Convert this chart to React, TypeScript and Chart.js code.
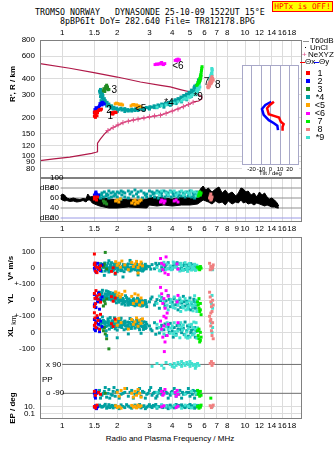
import React, { useEffect, useRef } from "react";
import { Chart, registerables } from "chart.js";
Chart.register(...registerables);

type P = [number, number];

const SANS = "'Liberation Sans', Arial, Helvetica, sans-serif";
const MONO = "'DejaVu Sans Mono', 'Liberation Mono', monospace";
const GRID = "#dcdcdc";
const FRAME = "#808080";

// ---------------- axes ----------------
const F_MIN = 0.756;
const F_MAX = 20.5;
const FREQ_TICKS_TOP = [1, 1.5, 2, 3, 4, 5, 6, 7, 8, 10, 12, 14, 16, 18];
const FREQ_TICKS_MID = [1, 1.5, 2, 3, 4, 5, 6, 7, 8, 9, 10, 12, 14, 16, 18];
const FREQ_TICKS_BOT = [1, 1.5, 2, 3, 4, 5, 6, 7, 8, 10, 12, 14, 16, 18];
const HEIGHT_MIN = 67.5;
const HEIGHT_MAX = 800;
const HEIGHT_TICKS = [80, 90, 100, 120, 150, 200, 300, 400, 600, 800];
const DB_MIN = 12;
const DB_MAX = 100;
const DB_LEVELS = [100, 80, 60, 40];
const DBN_LEVEL = 20;
const TILT_TICKS = [-20, -10, 0, 10, 20];
const TILT_H_MIN = 84.6;
const TILT_H_MAX = 508;

// lower block: one composite axis (V*, YL, XL, PP, EP)
const U_MIN = -740;
const U_MAX = 394;
const V_BASE = 200;
const YL_BASE = 0;
const XL_BASE = -200;
const PPX_BASE = -400;
const PPO_BASE = -580;
const PP_SCALE = 3;
const EP_BASE = -664;
const EP_DECADE = 22;
const LOWER_TICKS: [number, string][] = [
  [300, "100"], [200, "0"], [100, "+-100"], [0, "0"], [-100, "+-100"], [-200, "0"], [-300, "-100"],
  [-664, "10."], [-708, "0.1"],
];

// ---------------- colours ----------------
const SERIES_NAMES = ["1", "2", "3", "*4", "<5", "<6", "7", "8", "*9"];
const SERIES_COLORS = ["#ff0000", "#0000ff", "#228b22", "#00a0a0", "#ffa500", "#ff00ff", "#00ee00", "#f08080", "#40e0d0"];
const MODEL_COLOR = "#b01848";
const NEXYZ_COLOR = "#e0508a";

// ---------------- R', R (f MHz, h km) ----------------
const TOP_1: P[] = [[1.5, 204], [1.52, 208], [1.51, 214], [1.53, 212], [1.55, 206], [1.5, 220], [1.53, 222], [1.56, 218], [1.58, 226], [1.6, 230], [1.62, 228], [1.64, 232], [1.52, 200], [1.86, 214], [1.88, 218], [1.91, 216], [1.94, 220], [1.97, 218], [1.89, 212]];
const TOP_2: P[] = [[1.5, 218], [1.52, 224], [1.51, 230], [1.54, 228], [1.56, 234], [1.53, 238], [1.58, 240], [1.6, 246], [1.62, 252], [1.64, 258], [1.66, 262], [1.68, 258], [1.7, 254], [1.65, 250], [1.61, 256], [1.57, 236], [1.55, 226]];
const TOP_3: P[] = [[1.68, 322], [1.7, 330], [1.72, 338], [1.73, 348], [1.75, 356], [1.74, 340], [1.76, 334], [1.78, 328], [1.71, 318], [1.69, 334], [1.77, 345], [1.8, 330]];
const TOP_4: P[] = [[1.6, 320], [1.62, 330], [1.61, 310], [1.63, 300], [1.62, 290], [1.64, 318], [1.66, 305], [1.65, 285], [1.67, 295], [1.68, 275], [1.7, 280], [1.7, 265], [1.72, 270], [1.74, 258], [1.76, 262], [1.78, 250], [1.8, 254], [1.83, 244], [1.86, 246], [1.88, 238], [1.92, 240], [1.95, 234], [1.99, 236], [2.03, 230], [2.08, 233], [2.12, 228], [2.17, 231], [2.22, 227], [2.28, 230], [2.34, 228], [2.4, 232], [2.46, 229], [2.52, 233], [2.58, 230], [2.64, 234], [2.7, 232], [2.76, 236], [2.82, 234], [2.88, 239], [2.95, 237], [3.02, 242], [3.1, 240], [3.18, 246], [3.26, 244], [3.34, 250], [3.42, 248], [3.5, 254], [3.58, 252], [3.66, 258], [3.74, 256], [3.82, 262], [3.9, 262], [3.98, 268], [4.06, 266], [4.14, 274], [4.22, 272], [4.3, 280], [4.38, 278], [4.46, 288], [4.54, 286], [4.62, 296], [4.7, 294], [4.78, 304], [4.86, 302], [4.94, 314], [5.02, 312], [5.1, 326], [5.18, 322], [5.26, 340], [5.34, 336], [5.4, 356], [5.46, 350], [5.52, 374], [5.56, 392],
  [1.9, 232], [2.0, 226], [2.1, 236], [2.2, 234], [2.3, 224], [2.5, 226], [2.6, 238], [2.8, 230], [3.0, 236], [3.2, 238], [3.4, 244], [3.6, 246], [3.8, 252], [4.0, 258], [4.2, 262], [4.4, 272], [4.6, 280], [4.8, 288], [5.0, 298], [5.2, 310], [5.3, 350], [5.4, 330], [5.5, 340], [5.3, 320], [5.5, 360], [5.56, 372],
  [2.0, 222], [2.2, 222], [2.4, 224], [2.6, 226], [2.8, 228], [3.0, 232], [3.3, 238], [3.6, 240], [3.9, 248], [4.2, 256], [4.5, 264], [4.8, 274], [5.1, 292], [1.75, 245], [1.85, 236], [1.65, 262], [1.63, 270]];
const TOP_5: P[] = [[1.95, 255], [1.98, 258], [2.02, 256], [2.06, 252], [2.1, 254], [2.14, 250], [2.38, 246], [2.42, 250], [2.46, 252], [2.5, 248], [2.55, 250], [2.6, 246], [2.65, 244], [2.7, 242], [2.58, 240]];
const TOP_6: P[] = [[3.22, 515], [3.28, 520], [3.34, 518], [3.4, 522], [3.46, 528], [3.52, 520], [3.58, 515], [3.64, 524], [3.5, 535], [4.15, 555], [4.22, 562], [4.3, 568], [4.38, 560], [4.26, 550]];
const TOP_7: P[] = [[5.45, 355], [5.5, 362], [5.55, 370], [5.58, 380], [5.62, 390], [5.66, 402], [5.7, 415], [5.73, 430], [5.76, 448], [5.78, 465], [5.8, 482], [5.82, 496], [5.6, 372], [5.68, 388], [5.72, 400], [5.64, 380], [5.75, 420]];
const TOP_8: P[] = [[6.25, 345], [6.3, 355], [6.35, 365], [6.4, 375], [6.45, 385], [6.5, 395], [6.55, 405], [6.6, 415], [6.65, 402], [6.7, 390], [6.6, 380], [6.5, 365], [6.4, 350], [6.55, 372], [6.3, 340]];
const TOP_9: P[] = [[3.3, 240], [3.5, 246], [3.7, 250], [3.9, 256], [4.1, 258], [4.3, 264], [4.5, 268], [4.6, 276], [4.7, 282], [4.8, 278], [4.9, 290], [5.0, 286], [5.1, 296], [5.2, 300], [5.3, 306], [5.4, 312], [5.45, 325], [5.5, 335], [5.55, 345], [5.6, 355], [5.62, 368], [5.65, 380], [5.68, 395], [5.7, 410], [5.72, 425], [5.6, 330], [5.5, 318], [5.4, 300], [5.66, 345],
  [6.5, 425], [6.55, 440], [6.6, 455], [6.62, 470], [6.58, 480], [6.45, 410], [6.4, 395], [6.6, 430]];
const TOP_LABELS: [string, number, number][] = [["1", 1.77, 205], ["2", 1.74, 226], ["3", 1.86, 324], ["*4", 3.62, 256], ["<5", 2.5, 233], ["<6", 4.0, 502], ["7", 5.95, 376], ["8", 6.85, 355], ["*9", 5.22, 288]];
const MODEL_PROFILE: P[] = [[0.756, 92], [0.9, 95], [1.1, 98], [1.3, 102], [1.45, 105], [1.53, 107], [1.56, 108], [1.56, 126], [1.62, 136], [1.7, 148], [1.78, 158], [1.9, 167], [2.2, 184], [2.6, 194], [3.0, 202], [3.45, 208], [4.0, 224], [4.5, 240], [5.0, 255], [5.24, 264], [5.58, 268], [5.8, 278], [5.82, 288], [5.65, 297], [5.02, 315], [4.43, 329], [3.9, 345], [3.45, 355], [2.68, 377], [2.0, 412], [1.49, 446], [1.1, 482], [0.756, 524]];
const NEXYZ: P[] = [[1.78, 158], [1.9, 167], [2.02, 175], [2.15, 182], [2.3, 187], [2.45, 191], [2.6, 194], [2.8, 198], [3.0, 202], [3.2, 205], [3.45, 208], [3.7, 215], [4.0, 224], [4.3, 232], [4.6, 242], [4.9, 252], [5.2, 262]];

// ---------------- tilt inset (deg, km) ----------------
const TILT_X: P[] = [[3.6, 263], [-0.7, 248], [-3.6, 234], [-1.8, 210], [3.6, 204], [9, 198], [10.8, 184], [13.8, 176], [12.7, 168], [12.7, 156]];
const TILT_Y: P[] = [[0.8, 263], [-5.4, 248], [-9, 231], [-7.2, 208], [-1.8, 189], [3.6, 179], [7.2, 171], [7.9, 158]];

// ---------------- amplitude dBe ----------------
const NOISE_F = [0.98, 1.0, 1.03, 1.06, 1.1, 1.15, 1.2, 1.25, 1.3, 1.35, 1.38, 1.42, 1.46, 1.5, 1.6, 1.8, 2.0, 2.3, 2.6, 2.9, 3.0, 3.3, 3.6, 4.0, 4.5, 5.0, 5.5, 5.7, 5.9, 6.1, 6.3, 6.6, 6.9, 7.2, 7.5, 7.8, 8.1, 8.5, 8.9, 9.2, 9.5, 9.8, 10.1, 10.4, 10.8, 11.2, 11.6, 12.0, 12.4, 12.8, 13.2, 13.6, 14.0, 14.5, 15.0, 15.3];
const NOISE_HI = [64, 68, 66, 60, 58, 60, 58, 57, 59, 58, 68, 62, 63, 64, 62, 58, 56, 58, 56, 58, 60, 62, 60, 58, 62, 60, 64, 78, 84, 76, 80, 72, 78, 82, 70, 76, 68, 72, 64, 70, 80, 78, 72, 74, 66, 70, 62, 72, 66, 70, 62, 58, 60, 56, 50, 44];
const NOISE_LO = [58, 56, 54, 55, 53, 54, 52, 53, 55, 52, 56, 56, 50, 48, 44, 40, 40, 42, 41, 40, 46, 44, 46, 44, 46, 46, 48, 52, 56, 54, 52, 48, 54, 50, 52, 46, 54, 48, 52, 50, 56, 50, 52, 48, 50, 46, 50, 48, 46, 44, 46, 44, 42, 42, 40, 40];
const DB_1: P[] = [[1.5, 58], [1.52, 60], [1.54, 56], [1.56, 62], [1.5, 62]];
const DB_2: P[] = [[1.5, 66], [1.52, 70], [1.54, 68], [1.56, 64], [1.53, 72], [1.58, 66]];
const DB_3: P[] = [[1.7, 50], [1.72, 52], [1.75, 48], [1.68, 54]];
const DB_4: P[] = [[1.6, 66], [1.65, 70], [1.7, 72], [1.75, 68], [1.8, 74], [1.85, 70], [1.9, 72], [1.95, 68], [2.0, 72], [2.05, 70], [2.1, 74], [2.15, 72], [2.2, 70], [2.3, 74], [2.4, 72], [2.5, 76], [2.6, 72], [2.7, 74], [2.8, 70], [2.9, 68], [3.0, 74], [3.1, 72], [3.2, 70], [3.3, 74], [3.4, 72], [3.5, 70], [3.6, 74], [3.7, 72], [3.8, 70], [3.9, 74], [4.0, 72], [4.2, 70], [4.4, 72], [4.6, 70], [4.8, 72], [5.0, 74], [5.2, 70], [5.4, 68],
  [1.62, 60], [1.68, 62], [1.74, 64], [1.8, 60], [1.86, 62], [1.92, 64], [2.0, 62], [2.1, 58], [2.2, 62], [2.3, 60], [2.45, 64], [2.6, 62], [2.75, 60], [2.9, 62], [3.05, 64], [3.2, 62], [3.35, 60], [3.5, 64], [3.65, 62], [3.8, 64], [3.95, 62], [4.1, 64], [4.3, 62], [4.5, 64], [4.7, 62], [4.9, 64], [5.1, 62], [5.3, 60], [5.5, 64],
  [1.64, 66], [1.78, 66], [1.95, 66], [2.12, 66], [2.35, 68], [2.55, 68], [2.85, 66], [3.15, 68], [3.45, 68], [3.75, 66], [4.05, 68], [4.35, 66], [4.65, 68], [4.95, 68], [5.25, 66], [5.45, 72]];
const DB_5: P[] = [[1.96, 54], [2.0, 56], [2.04, 52], [2.08, 58], [2.4, 50], [2.45, 54], [2.5, 56], [2.55, 52], [2.6, 50], [2.65, 54], [2.7, 56], [2.5, 48]];
const DB_6: P[] = [[3.45, 52], [3.5, 56], [3.55, 54], [3.6, 50], [3.65, 54], [4.1, 54], [4.2, 56], [4.3, 52]];
const DB_7: P[] = [[5.55, 64], [5.6, 68], [5.65, 72], [5.7, 66], [5.75, 70]];
const DB_8: P[] = [[6.4, 60], [6.45, 64], [6.5, 68], [6.55, 58], [6.5, 56], [6.6, 62]];
const DB_9: P[] = [[3.3, 70], [3.5, 74], [3.7, 70], [3.9, 72], [4.1, 74], [4.3, 70], [4.5, 74], [4.7, 72], [4.9, 70], [5.1, 74], [5.3, 72], [5.5, 70], [5.6, 66], [3.4, 66], [3.8, 66], [4.2, 66], [4.6, 66], [5.0, 66], [5.4, 64]];

// ---------------- V* (m/s), YL, XL (km) ----------------
const V_1: P[] = [[1.5, 88], [1.5, 22], [1.52, -18], [1.53, 8], [1.55, -28], [1.51, 32], [1.57, 4], [1.6, -8], [1.62, 14], [1.86, -20], [1.9, 2], [1.95, -32]];
const YL_1: P[] = [[1.5, 42], [1.51, 12], [1.52, -22], [1.53, 60], [1.55, 26], [1.5, -40], [1.57, 6], [1.6, 36], [1.62, -12], [1.86, 22], [1.9, -6], [1.95, 14]];
const XL_1: P[] = [[1.5, 122], [1.51, 90], [1.52, 58], [1.53, 30], [1.55, 104], [1.5, 44], [1.57, 74], [1.6, 20], [1.62, 112], [1.86, 54], [1.9, 36], [1.95, 82]];
const V_2: P[] = [[1.5, 26], [1.51, -12], [1.52, 16], [1.53, -22], [1.55, 6], [1.56, 30], [1.58, -6], [1.6, 10], [1.62, -16], [1.65, 20], [1.5, 0], [1.54, -26]];
const YL_2: P[] = [[1.5, 36], [1.51, -22], [1.52, 10], [1.53, -46], [1.55, 26], [1.56, -10], [1.58, 46], [1.6, -56], [1.62, 0], [1.65, 20], [1.5, -30], [1.54, 16]];
const XL_2: P[] = [[1.5, 80], [1.51, 40], [1.52, 10], [1.53, 66], [1.55, 26], [1.56, 90], [1.58, 50], [1.6, 4], [1.62, 70], [1.65, 36], [1.5, 20], [1.54, 60]];
const V_3: P[] = [[1.72, 98], [1.7, 25], [1.75, -5], [1.68, 12]];
const YL_3: P[] = [[1.7, -6], [1.72, -22], [1.75, 8], [1.68, -36]];
const XL_3: P[] = [[1.7, 30], [1.72, -10], [1.75, -40], [1.68, 10], [1.8, -103]];
const V_4: P[] = [[1.6, 12], [1.63, -8], [1.66, 24], [1.69, 4], [1.72, -18], [1.75, 16], [1.78, 30], [1.81, -4], [1.84, 20], [1.87, 0], [1.9, -12], [1.93, 26], [1.96, 6], [2.0, -22], [2.04, 14], [2.08, 2], [2.12, -14], [2.16, 22], [2.2, 10], [2.25, -6], [2.3, 26], [2.35, -18], [2.4, 6], [2.45, 16], [2.5, -10], [2.55, 30], [2.6, 0], [2.65, -14], [2.7, 20], [2.75, 6], [2.8, -6], [2.85, 24], [2.9, 12],
  [1.62, 28], [1.65, -20], [1.68, 10], [1.71, 32], [1.74, -6], [1.77, 2], [1.8, -24], [1.83, 8], [1.86, 34], [1.89, -16], [1.92, 12], [1.95, -4], [1.98, 18], [2.02, -8], [2.06, 30], [2.1, -2], [2.14, 8], [2.18, -22], [2.22, 20], [2.28, 4], [2.32, -10], [2.38, 28], [2.42, -4], [2.48, 10], [2.52, 22], [2.58, -16], [2.62, 14], [2.68, -2], [2.72, 28], [2.78, -12], [2.84, 8], [2.88, -4],
  [1.61, -2], [1.67, 18], [1.73, 8], [1.79, -12], [1.85, 14], [1.91, -6], [1.97, 22], [2.03, 4], [2.09, -16], [2.15, 10], [2.21, -2], [2.27, 16], [2.33, 2], [2.39, -12], [2.45, -2], [2.51, 6], [2.57, 12], [2.63, -8], [2.69, 6], [2.75, -18], [2.81, 14], [2.87, 2],
  [1.7, -45], [1.95, -38], [2.15, -55], [2.35, 48], [2.6, -42], [1.8, 46],
  [3.0, 10], [3.1, 22], [3.2, -4], [3.3, 16], [3.4, 28], [3.5, 6], [3.6, -10], [3.7, 20], [3.8, 34], [3.9, 8], [4.0, -6], [4.1, 24], [4.2, 14], [4.3, -2], [4.4, 26], [4.5, 4], [4.6, 16], [4.7, -8], [4.8, 20], [4.9, 6], [5.0, -4], [5.1, 18], [5.2, 8], [5.3, -6], [5.4, 12],
  [3.05, -6], [3.25, 30], [3.45, -16], [3.65, 6], [3.85, -4], [4.05, 12], [4.25, 34], [4.45, -12], [4.65, 28], [4.85, -2], [5.05, 28], [5.25, 20], [5.35, 0]];
const YL_4: P[] = [[1.6, 50], [1.63, 30], [1.66, 62], [1.69, 12], [1.72, 40], [1.75, 22], [1.78, 54], [1.81, 6], [1.84, 34], [1.87, 18], [1.9, 44], [1.93, -4], [1.96, 26], [2.0, 10], [2.04, -12], [2.08, 20], [2.12, -24], [2.16, 4], [2.2, -8], [2.25, 16], [2.3, -30], [2.35, -2], [2.4, -18], [2.45, 10], [2.5, -34], [2.55, -6], [2.6, -20], [2.65, 4], [2.7, -36], [2.75, -10], [2.8, -24], [2.85, -2], [2.9, -40],
  [1.62, 14], [1.65, 46], [1.68, 26], [1.71, -2], [1.74, 58], [1.77, 36], [1.8, 16], [1.83, 48], [1.86, 2], [1.89, 28], [1.92, 12], [1.95, 38], [1.98, -16], [2.02, 24], [2.06, 2], [2.1, -4], [2.14, 12], [2.18, -18], [2.22, 28], [2.28, -14], [2.32, 8], [2.38, -26], [2.42, -4], [2.48, 2], [2.52, -18], [2.58, 12], [2.62, -30], [2.68, -12], [2.72, -2], [2.78, -30], [2.84, -14], [2.88, -24],
  [1.61, 36], [1.67, 2], [1.73, 22], [1.79, 40], [1.85, 24], [1.91, 30], [1.97, 6], [2.03, -6], [2.09, 6], [2.15, -10], [2.21, -30], [2.27, 0], [2.33, -20], [2.39, -10], [2.45, -28], [2.51, -12], [2.57, -28], [2.63, -8], [2.69, -22], [2.75, -34], [2.81, -6], [2.87, -14],
  [3.0, -10], [3.1, 20], [3.2, -30], [3.3, 4], [3.4, -50], [3.5, 16], [3.6, -20], [3.7, -4], [3.8, 30], [3.9, -40], [4.0, -12], [4.1, 10], [4.2, -28], [4.3, -60], [4.4, 2], [4.5, -18], [4.6, 24], [4.7, -36], [4.8, -6], [4.9, -50], [5.0, 14], [5.1, -22], [5.2, -44], [5.3, -8], [5.4, -30],
  [3.05, 8], [3.25, -14], [3.45, -2], [3.65, -38], [3.85, 6], [4.05, -30], [4.25, -6], [4.45, -44], [4.65, -10], [4.85, -24], [5.05, -60], [5.25, 6], [5.35, -50]];
const XL_4: P[] = [[1.6, 80], [1.63, 50], [1.66, 96], [1.69, 30], [1.72, 66], [1.75, 40], [1.78, 84], [1.81, 20], [1.84, 58], [1.87, 72], [1.9, 36], [1.93, 90], [1.96, 48], [2.0, 14], [2.04, 62], [2.08, 80], [2.12, 30], [2.16, 54], [2.2, 70], [2.25, 22], [2.3, 46], [2.35, 86], [2.4, 38], [2.45, 60], [2.5, 26], [2.55, 74], [2.6, 44], [2.65, 16], [2.7, 58], [2.75, 36], [2.8, 66], [2.85, 24], [2.9, 50],
  [1.62, 64], [1.65, 28], [1.68, 74], [1.71, 52], [1.74, 10], [1.77, 60], [1.8, 44], [1.83, 92], [1.86, 30], [1.89, 56], [1.92, 70], [1.95, 22], [1.98, 64], [2.02, 40], [2.06, 34], [2.1, 88], [2.14, 48], [2.18, 16], [2.22, 40], [2.28, 64], [2.32, 30], [2.38, 52], [2.42, 74], [2.48, 44], [2.52, 56], [2.58, 34], [2.62, 66], [2.68, 40], [2.72, 80], [2.78, 18], [2.84, 44], [2.88, 30],
  [1.61, 44], [1.67, 60], [1.73, 36], [1.79, 70], [1.85, 46], [1.91, 54], [1.97, 36], [2.03, 76], [2.09, 46], [2.15, 64], [2.21, 56], [2.27, 40], [2.33, 62], [2.39, 24], [2.45, 44], [2.51, 50], [2.57, 54], [2.63, 30], [2.69, 46], [2.75, 60], [2.81, 40], [2.87, 62],
  [1.75, -20], [2.0, -34], [2.3, -10], [2.7, -6],
  [3.0, 40], [3.1, 10], [3.2, 60], [3.3, 26], [3.4, -4], [3.5, 44], [3.6, 16], [3.7, -20], [3.8, 34], [3.9, 56], [4.0, 8], [4.1, 30], [4.2, -12], [4.3, 20], [4.4, 48], [4.5, -2], [4.6, 26], [4.7, 64], [4.8, 10], [4.9, -24], [5.0, 36], [5.1, 14], [5.2, -10], [5.3, 30], [5.4, 6],
  [3.05, 20], [3.25, -12], [3.45, 30], [3.65, 52], [3.85, 0], [4.05, -30], [4.25, 42], [4.45, 18], [4.65, -14], [4.85, 40], [5.05, -2], [5.25, 20], [5.35, -30]];
const V_5: P[] = [[1.96, 40], [2.0, 18], [2.04, 30], [2.08, 6], [2.12, 44], [2.2, 20], [2.4, 36], [2.45, 10], [2.5, 26], [2.55, 42], [2.6, 4], [2.65, 22], [2.7, 38], [2.75, 14], [2.3, -10], [2.6, -30]];
const YL_5: P[] = [[1.96, 52], [2.0, 30], [2.04, 44], [2.08, 20], [2.12, 36], [2.2, 56], [2.4, 24], [2.45, -20], [2.5, 40], [2.55, -6], [2.6, 32], [2.65, -30], [2.7, 14], [2.75, -16]];
const XL_5: P[] = [[1.96, 70], [2.0, 44], [2.04, 86], [2.1, 60], [2.4, 80], [2.45, 50], [2.5, 66], [2.55, 90], [2.6, 38], [2.65, 76], [2.7, 56], [2.75, 84], [2.3, 20]];
const V_6: P[] = [[3.45, 60], [3.5, 30], [3.55, -10], [3.6, 20], [3.65, -30], [3.7, 70], [3.8, -40], [4.25, 26], [4.3, -6]];
const YL_6: P[] = [[3.45, 80], [3.5, 40], [3.55, -20], [3.6, 10], [3.65, -50], [3.7, 60], [3.75, -80], [3.8, 26], [3.6, -100], [4.25, -10], [4.3, 30]];
const XL_6: P[] = [[3.45, 70], [3.5, 20], [3.55, -30], [3.6, 40], [3.65, -60], [3.7, 90], [3.75, -20], [3.8, 50], [3.62, -120], [4.3, 60]];
const V_7: P[] = [[5.5, 6], [5.6, -4], [5.7, 10], [5.75, 0], [5.65, -10]];
const YL_7: P[] = [[5.5, -10], [5.55, -30], [5.6, -50], [5.65, -70], [5.7, -20], [5.75, -90], [5.6, 10], [5.7, -60]];
const XL_7: P[] = [[5.5, 10], [5.55, -20], [5.6, -40], [5.65, -60], [5.7, 0], [5.75, -30], [5.6, 20], [5.7, -50]];
const V_8: P[] = [[6.4, 30], [6.5, 10], [6.6, -6], [6.7, 20], [6.45, -10], [6.65, 4]];
const YL_8: P[] = [[6.4, 50], [6.45, 20], [6.5, -10], [6.55, -40], [6.6, -70], [6.65, 0], [6.7, -30], [6.5, -80]];
const XL_8: P[] = [[6.4, 100], [6.45, 70], [6.5, 40], [6.55, 10], [6.6, -20], [6.65, 60], [6.7, -40], [6.5, 80]];
const V_9: P[] = [[3.3, 4], [3.5, 20], [3.7, -8], [3.9, 14], [4.1, 30], [4.3, -4], [4.5, 16], [4.7, 34], [4.9, 0], [5.1, -12], [5.3, 24], [5.5, 8], [5.6, -4], [3.4, -16], [3.8, -2], [4.2, 8], [4.6, -14], [5.0, 20], [5.4, -10], [3.6, 36], [4.0, 2], [4.4, -18], [4.8, -6], [5.2, 12], [6.55, 10], [6.65, -10],
  [3.75, 26], [3.95, -10], [4.15, 6], [4.35, 22], [4.55, -6], [4.75, 12], [4.95, 28], [5.15, 4], [5.35, -14], [5.45, 18], [4.05, 38], [4.45, 30], [4.85, -20], [5.25, -2]];
const YL_9: P[] = [[3.3, -20], [3.5, 8], [3.7, -44], [3.9, -14], [4.1, 20], [4.3, -32], [4.5, -6], [4.7, 10], [4.9, -40], [5.1, -12], [5.3, 28], [5.5, -20], [5.6, -56], [3.4, 26], [3.8, -60], [4.2, -2], [4.6, -48], [5.0, -30], [5.4, 0], [3.6, -8], [4.0, -30], [4.4, 14], [4.8, -16], [5.2, -66], [6.55, -20], [6.6, 30], [6.65, -50],
  [3.75, -30], [3.95, 4], [4.15, -50], [4.35, -16], [4.55, -36], [4.75, -60], [4.95, -4], [5.15, -38], [5.35, -24], [5.45, -70], [4.05, -46], [4.45, -70], [4.85, -56], [5.25, -30]];
const XL_9: P[] = [[3.3, 50], [3.5, 14], [3.7, 36], [3.9, -6], [4.1, 60], [4.3, 8], [4.5, 34], [4.7, -16], [4.9, 22], [5.1, 50], [5.3, -4], [5.5, 28], [5.6, 10], [3.4, 30], [3.8, 18], [4.2, -20], [4.6, 46], [5.0, -30], [5.4, 60], [3.6, -10], [4.0, 40], [4.4, -34], [4.8, 2], [5.2, 30], [6.55, 60], [6.6, 0], [6.65, 30],
  [3.75, 60], [3.95, 26], [4.15, 4], [4.35, 40], [4.55, 14], [4.75, -30], [4.95, 46], [5.15, -16], [5.35, 20], [5.45, -36], [4.05, -10], [4.45, 60], [4.85, -36], [5.25, 64]];

// ---------------- PP (deg) and EP (deg) ----------------
const PPX_8: P[] = [[6.45, 92], [6.55, 96], [6.6, 88], [6.7, 92]];
const PPX_9: P[] = [[3.1, 86], [3.3, 92], [3.5, 88], [3.7, 94], [3.9, 90], [4.0, 86], [4.1, 92], [4.2, 88], [4.3, 94], [4.4, 90], [4.5, 86], [4.6, 92], [4.7, 88], [4.8, 94], [4.9, 90], [5.0, 86], [5.1, 92], [5.2, 88], [5.3, 90], [5.4, 86], [5.5, 92], [5.6, 88], [3.6, 82], [4.1, 84], [4.5, 96], [5.0, 96], [5.35, 82]];
const PPO_1: P[] = [[1.5, -86], [1.52, -94], [1.58, -88], [1.62, -92]];
const PPO_2: P[] = [[1.5, -90], [1.51, -96], [1.53, -84], [1.55, -90], [1.52, -100]];
const PPO_3: P[] = [[1.72, -90]];
const PPO_4: P[] = [[1.6, -84], [1.65, -94], [1.7, -86], [1.75, -98], [1.8, -82], [1.85, -92], [1.9, -86], [1.95, -96], [2.0, -84], [2.1, -92], [2.2, -88], [2.3, -96], [2.4, -84], [2.5, -92], [2.6, -86], [2.7, -96], [2.8, -88], [2.9, -92], [3.0, -84], [3.1, -94], [3.2, -88], [3.3, -96], [3.4, -84], [3.5, -92], [3.7, -88], [3.9, -94], [4.0, -86], [4.2, -96], [4.4, -84], [4.6, -92], [4.8, -88], [5.0, -96], [5.2, -84], [5.4, -92], [5.55, -88],
  [1.62, -100], [1.72, -78], [1.82, -100], [1.92, -78], [2.05, -100], [2.25, -80], [2.45, -100], [2.65, -80], [2.85, -100], [3.05, -78], [3.25, -100], [3.45, -80], [3.8, -100], [4.1, -80], [4.5, -100], [4.9, -80], [5.3, -100],
  [1.68, -90], [1.78, -90], [1.88, -94], [1.98, -88], [2.15, -90], [2.35, -88], [2.55, -90], [2.75, -86], [2.95, -90], [3.15, -90], [3.35, -90], [3.55, -86], [3.75, -90], [3.95, -88], [4.15, -90], [4.35, -92], [4.55, -88], [4.75, -90], [4.95, -88], [5.15, -92], [5.35, -86], [5.5, -90]];
const PPO_5: P[] = [[2.0, -88], [2.05, -96], [2.1, -84], [2.4, -90], [2.45, -98], [2.5, -86], [2.55, -94], [2.6, -82], [2.65, -90], [2.7, -98], [2.2, -80]];
const PPO_6: P[] = [[3.5, -86], [3.55, -94], [3.6, -90], [3.65, -82], [4.15, -88], [4.2, -96], [4.25, -84], [4.3, -92]];
const PPO_7: P[] = [[5.5, -84], [5.55, -92], [5.6, -88], [5.65, -96], [5.7, -86], [5.75, -94], [6.5, -100]];
const PPO_9: P[] = [[3.3, -88], [3.6, -92], [4.0, -90], [4.3, -88], [4.7, -92], [5.1, -86], [5.4, -90]];
const EP_1: P[] = [[1.5, 12], [1.52, 5], [1.55, 30]];
const EP_2: P[] = [[1.5, 8], [1.52, 20], [1.54, 3], [1.56, 10]];
const EP_4: P[] = [[1.6, 30], [1.65, 8], [1.7, 20], [1.75, 4], [1.8, 40], [1.85, 12], [1.9, 5], [1.95, 25], [2.0, 8], [2.1, 35], [2.2, 6], [2.3, 15], [2.4, 4], [2.5, 30], [2.6, 10], [2.7, 5], [2.8, 20], [2.9, 8], [3.0, 40], [3.1, 6], [3.2, 15], [3.3, 4], [3.5, 25], [3.7, 8], [3.9, 30], [4.1, 5], [4.3, 15], [4.5, 35], [4.7, 6], [4.9, 20], [5.1, 10], [5.3, 4], [5.5, 25],
  [1.62, 14], [1.72, 50], [1.82, 6], [1.92, 14], [2.05, 3], [2.25, 40], [2.45, 12], [2.65, 45], [2.85, 3], [3.05, 12], [3.25, 45], [3.45, 10], [3.8, 3], [4.2, 45], [4.6, 12], [5.0, 45], [5.4, 8],
  [1.67, 12], [1.77, 10], [1.87, 25], [1.97, 10], [2.15, 12], [2.35, 8], [2.55, 15], [2.75, 12], [2.95, 15], [3.15, 25], [3.35, 12], [3.55, 6], [3.75, 20], [3.95, 10], [4.15, 12], [4.35, 25], [4.55, 10], [4.75, 15], [4.95, 6], [5.15, 20], [5.35, 15]];
const EP_5: P[] = [[1.96, 20], [2.0, 6], [2.05, 12], [2.1, 4], [2.4, 25], [2.45, 8], [2.5, 15], [2.55, 5], [2.6, 30], [2.65, 10], [2.7, 18]];
const EP_6: P[] = [[3.5, 10], [3.6, 20], [4.2, 6], [4.3, 15]];
const EP_7: P[] = [[5.5, 12], [5.6, 4], [5.65, 20], [5.7, 8], [5.75, 30]];
const EP_8: P[] = [[6.45, 20], [6.55, 6], [6.6, 12], [6.7, 30]];
const EP_9: P[] = [[3.3, 8], [3.5, 40], [3.7, 15], [3.9, 5], [4.1, 25], [4.3, 10], [4.5, 4], [4.7, 30], [4.9, 12], [5.1, 5], [5.3, 35], [5.5, 15], [6.6, 10]];

// ---------------- helpers ----------------
const xy = (a: P[]) => a.map(([x, y]) => ({ x, y }));
const pts = (data: any[], color: string, r = 2.1) => ({
  type: "scatter", data, backgroundColor: color, borderColor: color, borderWidth: 0,
  pointStyle: "rect", pointRadius: r, showLine: false,
});
const line = (data: any[], color: string, width = 1, extra: any = {}) => ({
  type: "line", data, borderColor: color, backgroundColor: color, borderWidth: width,
  pointRadius: 0, tension: 0, fill: false, ...extra,
});
const base: any = {
  responsive: false, animation: false, events: [],
  plugins: { legend: { display: false }, tooltip: { enabled: false } },
  layout: { padding: 0, autoPadding: false },
};
const tickFont = { family: SANS, size: 8 };
const noPad = (ax: any) => { ax.paddingTop = 0; ax.paddingBottom = 0; ax.paddingLeft = 0; ax.paddingRight = 0; };
function freqAxis(position: string, ticks: number[], height: number) {
  return {
    type: "logarithmic", position, min: F_MIN, max: F_MAX,
    afterBuildTicks: (ax: any) => { ax.ticks = ticks.map((v) => ({ value: v })); },
    afterFit: (ax: any) => { ax.height = height; noPad(ax); },
    ticks: { autoSkip: false, maxRotation: 0, color: "#000", font: tickFont, padding: 2, callback: (v: any) => String(v) },
    grid: { color: GRID, drawTicks: false, lineWidth: 1 },
    border: { display: false },
  };
}
const frame = (color: string) => ({
  id: "frame",
  afterDraw(chart: any) {
    const { ctx, chartArea: a } = chart;
    ctx.save();
    ctx.strokeStyle = color;
    ctx.lineWidth = 1;
    ctx.strokeRect(Math.round(a.left) + 0.5, Math.round(a.top) + 0.5, Math.round(a.right - a.left) - 1, Math.round(a.bottom - a.top) - 1);
    ctx.restore();
  },
});

function topConfig(): any {
  const order = [6, 7, 0, 1, 2, 5, 4, 8, 3];
  const all = [TOP_1, TOP_2, TOP_3, TOP_4, TOP_5, TOP_6, TOP_7, TOP_8, TOP_9];
  const labels = {
    id: "labels",
    afterDatasetsDraw(chart: any) {
      const { ctx, scales } = chart;
      ctx.save();
      ctx.fillStyle = "#000";
      ctx.font = `10px ${SANS}`;
      ctx.textBaseline = "middle";
      TOP_LABELS.forEach(([t, f, h]) => ctx.fillText(t, scales.x.getPixelForValue(f), scales.y.getPixelForValue(h)));
      ctx.restore();
    },
  };
  return {
    type: "scatter",
    data: {
      datasets: [
        ...order.map((i) => pts(xy(all[i]), SERIES_COLORS[i])),
        line(xy(NEXYZ), NEXYZ_COLOR, 1, { pointRadius: 2.5, pointStyle: "cross", pointBorderWidth: 1 }),
        line(xy(MODEL_PROFILE), MODEL_COLOR, 1.2),
      ],
    },
    options: {
      ...base,
      scales: {
        x: freqAxis("top", FREQ_TICKS_TOP, 14),
        y: {
          type: "logarithmic", min: HEIGHT_MIN, max: HEIGHT_MAX,
          afterBuildTicks: (ax: any) => { ax.ticks = HEIGHT_TICKS.map((v) => ({ value: v })); },
          afterFit: (ax: any) => { ax.width = 40; noPad(ax); },
          ticks: { color: "#000", font: tickFont, padding: 5, autoSkip: false, callback: (v: any) => String(v) },
          grid: { color: GRID, drawTicks: false },
          border: { display: false },
        },
      },
    },
    plugins: [frame(FRAME), labels],
  };
}

function dbConfig(): any {
  const order = [6, 7, 0, 1, 2, 5, 4, 8, 3];
  const all = [DB_1, DB_2, DB_3, DB_4, DB_5, DB_6, DB_7, DB_8, DB_9];
  const hi = NOISE_F.map((f, i) => ({ x: f, y: NOISE_HI[i] }));
  const lo = NOISE_F.map((f, i) => ({ x: f, y: NOISE_LO[i] }));
  const lvl = (v: number) => [{ x: 0.98, y: v }, { x: F_MAX, y: v }];
  return {
    type: "scatter",
    data: {
      datasets: [
        ...order.map((i) => pts(xy(all[i]), SERIES_COLORS[i])),
        line(hi, "#000", 1),
        line(lo, "#000", 1, { fill: "-1" }),
        ...DB_LEVELS.map((v) => line(lvl(v), "#909090", 1)),
        line(lvl(DBN_LEVEL), "#9a9ae6", 1),
      ],
    },
    options: {
      ...base,
      scales: {
        x: freqAxis("bottom", FREQ_TICKS_MID, 14),
        y: {
          type: "linear", min: DB_MIN, max: DB_MAX,
          afterFit: (ax: any) => { ax.width = 40; noPad(ax); },
          ticks: { display: false },
          grid: { display: false },
          border: { display: false },
        },
      },
    },
    plugins: [frame(FRAME)],
  };
}

function lowConfig(): any {
  const V = [V_1, V_2, V_3, V_4, V_5, V_6, V_7, V_8, V_9];
  const YL = [YL_1, YL_2, YL_3, YL_4, YL_5, YL_6, YL_7, YL_8, YL_9];
  const XL = [XL_1, XL_2, XL_3, XL_4, XL_5, XL_6, XL_7, XL_8, XL_9];
  const PPX = [[], [], [], [], [], [], [], PPX_8, PPX_9] as P[][];
  const PPO = [PPO_1, PPO_2, PPO_3, PPO_4, PPO_5, PPO_6, PPO_7, [], PPO_9] as P[][];
  const EP = [EP_1, EP_2, [], EP_4, EP_5, EP_6, EP_7, EP_8, EP_9] as P[][];
  const order = [6, 7, 0, 1, 2, 5, 4, 8, 3];
  const build = (i: number) => [
    ...V[i].map(([f, v]) => ({ x: f, y: V_BASE + v })),
    ...YL[i].map(([f, v]) => ({ x: f, y: YL_BASE + v })),
    ...XL[i].map(([f, v]) => ({ x: f, y: XL_BASE + v })),
    ...PPX[i].map(([f, v]) => ({ x: f, y: PPX_BASE + (v - 90) * PP_SCALE })),
    ...PPO[i].map(([f, v]) => ({ x: f, y: PPO_BASE + (v + 90) * PP_SCALE })),
    ...EP[i].map(([f, v]) => ({ x: f, y: EP_BASE + (Math.log10(v) - 1) * EP_DECADE })),
  ];
  const lvl = (v: number) => [{ x: 1, y: v }, { x: F_MAX, y: v }];
  const labelOf = new Map(LOWER_TICKS);
  return {
    type: "scatter",
    data: {
      datasets: [
        ...order.map((i) => pts(build(i), SERIES_COLORS[i])),
        line(lvl(PPX_BASE), "#6e6e6e", 1),
        line(lvl(PPO_BASE), "#6e6e6e", 1),
      ],
    },
    options: {
      ...base,
      scales: {
        x: freqAxis("bottom", FREQ_TICKS_BOT, 13),
        y: {
          type: "linear", min: U_MIN, max: U_MAX,
          afterBuildTicks: (ax: any) => { ax.ticks = LOWER_TICKS.map(([v]) => ({ value: v })); },
          afterFit: (ax: any) => { ax.width = 40; noPad(ax); },
          ticks: { color: "#000", font: tickFont, padding: 5, autoSkip: false, callback: (v: any) => labelOf.get(v) ?? "" },
          grid: { color: GRID, drawTicks: false },
          border: { display: false },
        },
      },
    },
    plugins: [frame(FRAME)],
  };
}

function tiltConfig(): any {
  return {
    type: "scatter",
    data: {
      datasets: [
        line(xy(TILT_X), "#ff0000", 2.5),
        line(xy(TILT_Y), "#0000ff", 2.5),
      ],
    },
    options: {
      ...base,
      scales: {
        x: {
          type: "linear", min: -30, max: 30,
          afterBuildTicks: (ax: any) => { ax.ticks = TILT_TICKS.map((v) => ({ value: v })); },
          afterFit: (ax: any) => { ax.height = 12; noPad(ax); },
          ticks: { color: "#000", font: { family: SANS, size: 6 }, padding: 1, autoSkip: false, maxRotation: 0 },
          grid: { color: "#a8a8c8", drawTicks: false },
          border: { display: false },
          title: { display: true, text: "Tilt / deg", color: "#000", font: { family: SANS, size: 6 }, padding: 0 },
        },
        y: { type: "logarithmic", min: TILT_H_MIN, max: TILT_H_MAX, display: false },
      },
    },
    plugins: [frame("#a8a8c8")],
  };
}

function Txt(props: any) {
  const { x, y, children, size = 8, align = "left", font = SANS, color = "#000", bold = false, rot = false, style = {} } = props;
  const tx = rot ? "-50%" : align === "center" ? "-50%" : align === "right" ? "-100%" : "0";
  return (
    <div
      style={{
        position: "absolute", left: x, top: y, fontFamily: font, fontSize: size, color, lineHeight: 1,
        whiteSpace: "pre", fontWeight: bold ? "bold" : "normal",
        transform: `translate(${tx}, -50%)` + (rot ? " rotate(-90deg)" : ""), ...style,
      }}
    >
      {children}
    </div>
  );
}

export default function App() {
  const topRef = useRef<HTMLCanvasElement>(null);
  const dbRef = useRef<HTMLCanvasElement>(null);
  const lowRef = useRef<HTMLCanvasElement>(null);
  const tiltRef = useRef<HTMLCanvasElement>(null);
  useEffect(() => {
    const charts = [
      new Chart(topRef.current as any, topConfig()),
      new Chart(dbRef.current as any, dbConfig()),
      new Chart(lowRef.current as any, lowConfig()),
      new Chart(tiltRef.current as any, tiltConfig()),
    ];
    return () => charts.forEach((c) => c.destroy());
  }, []);

  const legendY = (i: number) => 72.5 + 8.1 * i;
  return (
    <div style={{ position: "absolute", left: 0, top: 0, width: 335, height: 451, background: "#fff", overflow: "hidden" }}>
      <canvas ref={topRef} width={302} height={152} style={{ position: "absolute", left: 0, top: 26 }} />
      <canvas ref={dbRef} width={302} height={58} style={{ position: "absolute", left: 0, top: 178 }} />
      <canvas ref={lowRef} width={302} height={195} style={{ position: "absolute", left: 0, top: 237 }} />
      <canvas ref={tiltRef} width={57} height={112} style={{ position: "absolute", left: 242, top: 65, background: "#fff" }} />

      {/* title */}
      <Txt x={35} y={12} font={MONO} size={8.3}>{"TROMSO NORWAY   DYNASONDE 25-10-09 1522UT 15°E"}</Txt>
      <Txt x={60} y={20.5} font={MONO} size={8.3}>{"8pBP6It DoY= 282.640 File= TR812178.BPG"}</Txt>
      <div style={{ position: "absolute", left: 272, top: 1, width: 61, height: 11, background: "#ffff00", border: "1px solid #ff0000", boxSizing: "border-box", color: "#ff0000", fontFamily: MONO, fontSize: 7.8, lineHeight: "9px", textAlign: "center", whiteSpace: "nowrap", overflow: "hidden" }}>HPTx is OFF!</div>

      {/* axis titles */}
      <Txt x={13} y={84} rot bold size={8}>{"R', R / km"}</Txt>
      <Txt x={11} y={268} rot bold size={8}>{"V* m/s"}</Txt>
      <Txt x={11} y={299} rot bold size={8}>YL</Txt>
      <Txt x={13} y={320} rot size={7}>km</Txt>
      <Txt x={11} y={332} rot bold size={8}>XL</Txt>
      <Txt x={13} y={408} rot bold size={8}>EP / deg</Txt>
      <Txt x={170} y={439} align="center" size={8}>Radio and Plasma Frequency / MHz</Txt>

      {/* dBe panel labels */}
      <Txt x={50} y={178}>100</Txt>
      <Txt x={40} y={188}>dBe</Txt>
      <Txt x={50} y={188}>80</Txt>
      <Txt x={50} y={198}>60</Txt>
      <Txt x={50} y={208}>40</Txt>
      <Txt x={40} y={218}>dBn</Txt>
      <Txt x={50} y={218}>20</Txt>

      {/* PP labels */}
      <Txt x={46} y={364.5}>x 90</Txt>
      <Txt x={42} y={379.5}>PP</Txt>
      <Txt x={46} y={393}>o -90</Txt>

      {/* legend */}
      <div style={{ position: "absolute", left: 303, top: 41, width: 6, height: 1, background: "#909090" }} />
      <Txt x={310} y={41}>T60dB</Txt>
      <div style={{ position: "absolute", left: 305, top: 47, width: 1, height: 1, background: "#000" }} />
      <Txt x={310} y={48}>UnCl</Txt>
      <Txt x={302} y={55} color={NEXYZ_COLOR} size={8}>+</Txt>
      <Txt x={308} y={55}>NeXYZ</Txt>
      <div style={{ position: "absolute", left: 300, top: 62, width: 5, height: 1, background: "#ff0000" }} />
      <Txt x={305} y={62}>Θx</Txt>
      <div style={{ position: "absolute", left: 314, top: 62, width: 5, height: 1, background: "#0000ff" }} />
      <Txt x={319} y={62}>Θy</Txt>
      {SERIES_NAMES.map((n, i) => (
        <React.Fragment key={n}>
          <div style={{ position: "absolute", left: 306, top: legendY(i) - 1.5, width: 3.5, height: 3.5, background: SERIES_COLORS[i] }} />
          <Txt x={320} y={legendY(i)} align="center" size={9}>{n}</Txt>
        </React.Fragment>
      ))}
    </div>
  );
}
